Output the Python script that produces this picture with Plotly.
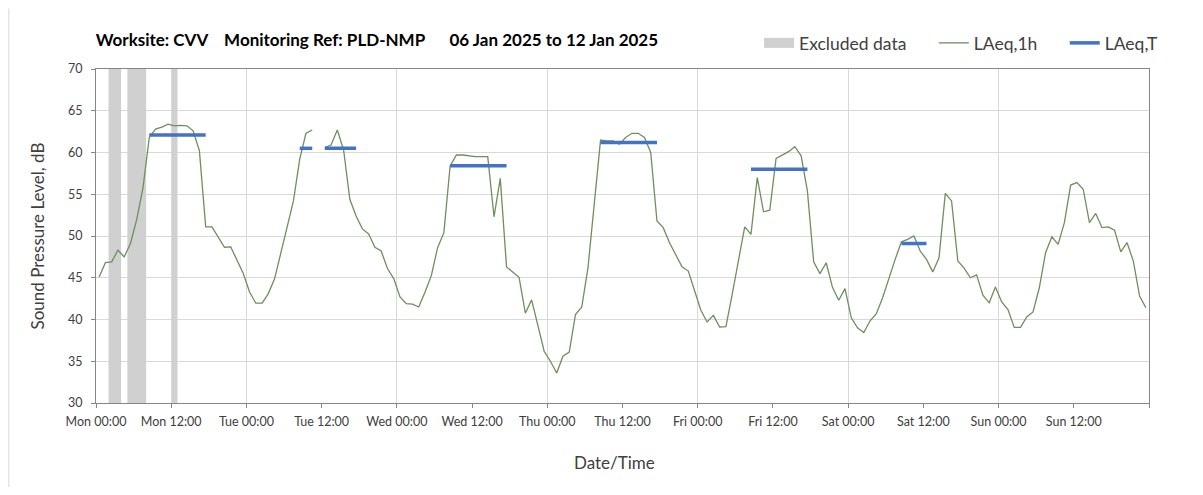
import plotly.graph_objects as go

# ---- Data ----
# Hour offsets from Mon 00:00 (hourly LAeq values plotted at mid-hour)
hour_offsets = [h + 0.5 for h in range(168)]

laeq_1h = [
    # Mon
    45.1, 46.8, 46.9, 48.3, 47.5, 49.1, 52.0, 55.8, 61.8, 62.8, 63.05, 63.4,
    63.2, 63.25, 63.2, 62.6, 60.2, 51.1, 51.1, 49.85, 48.65, 48.7, 47.05, 45.5,
    # Tue
    43.3, 41.95, 41.95, 43.1, 44.9, 47.9, 51.0, 54.2, 59.2, 62.3, 62.7, None,
    60.6, 60.9, 62.7, 60.3, 54.4, 52.4, 50.85, 50.25, 48.65, 48.2, 46.1, 44.9,
    # Wed
    42.7, 41.9, 41.85, 41.5, 43.3, 45.25, 48.6, 50.4, 58.4, 59.7, 59.7, 59.6,
    59.5, 59.5, 59.5, 52.3, 56.9, 46.3, 45.65, 45.05, 40.75, 42.35, 39.3, 36.2,
    # Thu
    35.0, 33.6, 35.6, 36.1, 40.6, 41.5, 46.25, 54.0, 61.5, 61.4, 61.4, 61.0,
    61.8, 62.3, 62.3, 61.8, 60.0, 51.8, 51.0, 49.2, 47.8, 46.3, 45.8, 43.5,
    # Fri
    41.1, 39.7, 40.5, 39.1, 39.15, 43.0, 47.2, 51.1, 50.2, 57.0, 52.9, 53.1,
    59.3, 59.7, 60.1, 60.7, 59.6, 55.4, 46.9, 45.5, 46.8, 43.85, 42.3, 43.7,
    # Sat
    40.2, 39.0, 38.45, 39.85, 40.7, 42.6, 45.0, 47.2, 49.3, 49.6, 50.0, 48.2,
    47.2, 45.7, 47.4, 55.1, 54.2, 47.0, 46.15, 45.0, 45.35, 42.9, 42.0, 43.9,
    # Sun
    42.1, 41.2, 39.05, 39.05, 40.3, 40.9, 43.8, 48.0, 49.9, 49.0, 51.6, 56.1,
    56.4, 55.6, 51.6, 52.7, 51.0, 51.1, 50.7, 48.1, 49.2, 47.0, 42.8, 41.4,
]

# LAeq,T periods (start hour, end hour, level)
laeq_t_start = [8.5, 32.5, 36.5, 56.5, 80.5, 104.5, 128.5]
laeq_t_end = [17.5, 34.5, 41.5, 65.5, 89.5, 113.5, 132.5]
laeq_t_level = [62.1, 60.5, 60.5, 58.4, 61.2, 58.0, 49.1]

# Excluded data periods (hours from Mon 00:00)
excl_start = [2, 5, 12]
excl_end = [4, 8, 13]

tick_hours = list(range(0, 169, 12))
tick_labels = [
    "Mon 00:00", "Mon 12:00", "Tue 00:00", "Tue 12:00", "Wed 00:00", "Wed 12:00",
    "Thu 00:00", "Thu 12:00", "Fri 00:00", "Fri 12:00", "Sat 00:00", "Sat 12:00",
    "Sun 00:00", "Sun 12:00", "",
]
day_boundaries = list(range(0, 169, 24))

y_min, y_max = 30, 70

NB = "\u00a0"
title_text = ("Worksite: CVV" + NB * 4 + "Monitoring Ref: PLD-NMP" + NB * 6
              + "06 Jan 2025 to 12 Jan 2025")

FONT = "Lato, 'Open Sans', sans-serif"
TXT = "#404040"
GRID = "#d9d9d9"
AXIS = "#868686"
EXCL = "#d0d0d0"

fig = go.Figure()

fig.add_trace(go.Bar(
    x=[(s + e) / 2 for s, e in zip(excl_start, excl_end)],
    y=[y_max - y_min] * len(excl_start),
    base=y_min,
    width=[e - s for s, e in zip(excl_start, excl_end)],
    marker=dict(color=EXCL, line=dict(width=0)),
    name="Excluded data", showlegend=False,
    hoverinfo="skip",
))

# legend entry for excluded data (wide grey rectangle symbol)
fig.add_trace(go.Scatter(
    x=[None], y=[None], mode="lines",
    line=dict(color=EXCL, width=10),
    name="Excluded data" + NB * 5,
))

fig.add_trace(go.Scatter(
    x=hour_offsets, y=laeq_1h, mode="lines",
    line=dict(color="#6f8f5c", width=1.3),
    name="LAeq,1h" + NB * 5, connectgaps=False,
))

bx, by = [], []
for s, e, lv in zip(laeq_t_start, laeq_t_end, laeq_t_level):
    bx += [s, e, None]
    by += [lv, lv, None]
fig.add_trace(go.Scatter(
    x=bx, y=by, mode="lines",
    line=dict(color="#4472C4", width=3.5),
    name="LAeq,T",
))

# figure sits inside the page body (8px default margin)
W, H = 1187, 479
L, R, T, B = 87.7, 46, 60.7, 84.3
plot_w = W - L - R
plot_h = H - T - B

fig.update_layout(
    width=W, height=H,
    margin=dict(l=L, r=R, t=T, b=B, autoexpand=False),
    plot_bgcolor="white", paper_bgcolor="white",
    font=dict(family=FONT, color=TXT, size=13),
    barmode="overlay",
    title=dict(
        text="<b>" + title_text + "</b>",
        x=L / W, xanchor="left", xref="container",
        y=1 - 32 / H, yanchor="middle", yref="container",
        font=dict(family=FONT, size=17, color="#000000"),
    ),
    legend=dict(
        orientation="h", x=1.0143, xanchor="right",
        y=1 + 26 / plot_h, yanchor="middle",
        font=dict(family=FONT, size=17.5, color=TXT),
        bgcolor="rgba(0,0,0,0)", traceorder="normal",
    ),
    showlegend=True,
    xaxis=dict(
        range=[0, 168],
        tickmode="array", tickvals=tick_hours, ticktext=tick_labels,
        ticks="outside", ticklen=4, tickcolor=AXIS,
        ticklabelstandoff=3,
        showgrid=False, zeroline=False,
        showline=True, linecolor=AXIS, linewidth=1, mirror=True,
        minor=dict(tickmode="array", tickvals=day_boundaries, showgrid=True,
                   gridcolor=GRID, gridwidth=1, ticks=""),
        tickfont=dict(family=FONT, size=12.5, color=TXT),
    ),
    yaxis=dict(
        range=[y_min, y_max], tick0=y_min, dtick=5,
        ticks="outside", ticklen=4, tickcolor=AXIS,
        ticklabelstandoff=6,
        showgrid=True, gridcolor=GRID, gridwidth=1.3, zeroline=False,
        showline=True, linecolor=AXIS, linewidth=1, mirror=True,
        tickfont=dict(family=FONT, size=12.5, color=TXT),
        title=dict(text="Sound Pressure Level, dB", standoff=19,
                   font=dict(family=FONT, size=17, color=TXT)),
    ),
)

# x-axis title
fig.add_annotation(text="Date/Time", xref="paper", yref="paper",
                   x=(614 - 8 - L) / plot_w, y=-(462 - 8 - (T + plot_h)) / plot_h,
                   xanchor="center", yanchor="middle", showarrow=False,
                   font=dict(family=FONT, size=17, color=TXT))

# light chart-area border on the left
fig.add_shape(type="line", xref="paper", yref="paper",
              x0=(0.5 - L) / plot_w, x1=(0.5 - L) / plot_w,
              y0=-B / plot_h, y1=1 + T / plot_h,
              line=dict(color=GRID, width=1), layer="below")

fig.write_html("out.html")
